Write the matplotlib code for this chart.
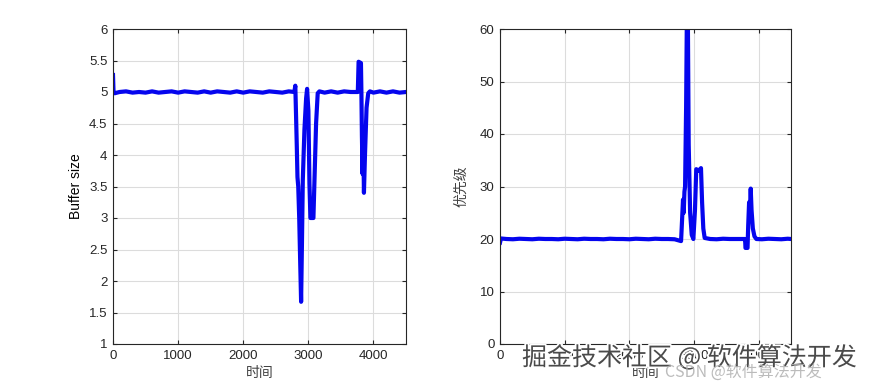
import matplotlib
matplotlib.use("Agg")
import matplotlib.pyplot as plt
import matplotlib.patheffects as pe

# ---- data ----
t_buf = [0, 8, 25, 100, 200, 300, 400, 500, 600, 700, 800, 900, 1000, 1100, 1200,
         1300, 1400, 1500, 1600, 1700, 1800, 1900, 2000, 2100, 2200, 2300, 2400,
         2500, 2600, 2700, 2785, 2800, 2812, 2823, 2833, 2845, 2860, 2875, 2889,
         2902, 2915, 2940, 2966, 2981, 3001, 3017, 3032, 3055, 3078, 3093, 3119,
         3144, 3170, 3250, 3350, 3450, 3550, 3650, 3760, 3772, 3808, 3815, 3823,
         3833, 3843, 3854, 3870, 3894, 3920, 3946, 4000, 4100, 4200, 4300, 4400, 4500]
buf = [5.27, 5.0, 4.98, 5.0, 5.01, 4.99, 5.0, 4.99, 5.01, 4.99, 5.0, 5.01, 4.99,
       5.01, 5.0, 4.99, 5.01, 4.99, 5.01, 5.0, 4.99, 5.01, 4.99, 5.01, 5.0, 4.99,
       5.01, 5.0, 4.99, 5.01, 5.0, 5.1, 4.6, 4.13, 3.65, 3.5, 3.0, 2.3, 1.67,
       2.6, 3.6, 4.4, 4.9, 5.05, 4.7, 3.55, 3.0, 3.0, 3.0, 3.55, 4.5, 4.98, 5.01,
       4.99, 5.01, 4.99, 5.01, 5.0, 5.0, 5.48, 5.46, 5.0, 4.3, 3.7, 4.3, 3.4,
       4.0, 4.75, 4.98, 5.01, 4.99, 5.01, 4.99, 5.01, 4.99, 5.0]

t_pri = [0, 15, 100, 200, 300, 400, 500, 600, 700, 800, 900, 1000, 1100, 1200,
         1300, 1400, 1500, 1600, 1700, 1800, 1900, 2000, 2100, 2200, 2300, 2400,
         2500, 2600, 2700, 2800, 2815, 2830, 2841, 2852, 2862, 2878, 2890, 2905,
         2918, 2940, 2965, 2990, 3015, 3035, 3070, 3108, 3125, 3144, 3165, 3250,
         3350, 3450, 3550, 3650, 3750, 3790, 3796, 3828, 3838, 3852, 3862, 3877,
         3890, 3910, 3935, 3965, 4050, 4150, 4250, 4350, 4450, 4500]
pri = [19.3, 20.1, 20.0, 19.95, 20.05, 20.0, 19.95, 20.05, 20.0, 20.0, 19.95, 20.05,
       20.0, 19.95, 20.05, 20.0, 20.0, 19.95, 20.05, 20.0, 20.0, 19.95, 20.05, 20.0,
       19.95, 20.05, 20.0, 20.0, 19.95, 19.6, 23.5, 27.5, 25.0, 29.0, 30.0, 45.0,
       63.0, 62.0, 38.0, 25.0, 20.8, 20.0, 25.5, 33.3, 33.0, 33.5, 27.0, 22.0,
       20.2, 20.0, 19.95, 20.05, 20.0, 20.0, 20.0, 20.0, 18.3, 18.3, 22.5, 27.0,
       24.5, 29.6, 25.5, 22.0, 20.5, 20.0, 19.95, 20.05, 20.0, 19.95, 20.05, 20.0]

x_ticks = [0, 1000, 2000, 3000, 4000]
buf_ticks = [1, 1.5, 2, 2.5, 3, 3.5, 4, 4.5, 5, 5.5, 6]
pri_ticks = [0, 10, 20, 30, 40, 50, 60]

plt.rcParams['font.family'] = ['Liberation Sans', 'Noto Sans CJK SC', 'DejaVu Sans']

fig = plt.figure(figsize=(8.73, 3.87), dpi=100)
ax1 = fig.add_axes([113/873, 43/387, 293/873, 315/387])
ax2 = fig.add_axes([500/873, 43/387, 291/873, 315/387])

txt = '#262626'
line_c = '#0505ee'

def style(ax):
    ax.grid(True, color='#dcdcdc', linewidth=0.8)
    ax.set_axisbelow(True)
    for s in ax.spines.values():
        s.set_color(txt)
        s.set_linewidth(0.8)
    ax.tick_params(direction='in', length=3, width=0.8, colors=txt,
                   labelsize=9.5, top=True, right=True, pad=4)

ax1.plot(t_buf, buf, color=line_c, linewidth=3.0, solid_joinstyle='round')
ax1.set_xlim(0, 4500)
ax1.set_ylim(1, 6)
ax1.set_xticks(x_ticks)
ax1.set_yticks(buf_ticks)
ax1.set_yticklabels(['1', '1.5', '2', '2.5', '3', '3.5', '4', '4.5', '5', '5.5', '6'])
ax1.set_ylabel('Buffer size', fontsize=10, color='black', labelpad=4)
ax1.set_xlabel('时间', fontsize=10, color='#404040', labelpad=3,
               family=['Noto Sans CJK SC'])
style(ax1)

ax2.plot(t_pri, pri, color=line_c, linewidth=3.0, solid_joinstyle='round')
ax2.set_xlim(0, 4500)
ax2.set_ylim(0, 60)
ax2.set_xticks(x_ticks)
ax2.set_yticks(pri_ticks)
ax2.set_ylabel('优先级', fontsize=10, color='#404040', labelpad=8,
               family=['Noto Sans CJK SC'])
ax2.set_xlabel('时间', fontsize=10, color='#404040', labelpad=3,
               family=['Noto Sans CJK SC'])
style(ax2)

# watermarks
fig.text(522/873, 1 - 358/387, '掘金技术社区 @ 软件算法开发', fontsize=18,
         color='#4a4a4a', family=['Noto Sans CJK SC'], va='center', ha='left',
         path_effects=[pe.withStroke(linewidth=2.5, foreground='white')])
fig.text(665/873, 1 - 372/387, 'CSDN @软件算法开发', fontsize=11.5,
         color='#b0b0b0', family=['Noto Sans CJK SC', 'DejaVu Sans'],
         va='center', ha='left', alpha=0.85)

fig.savefig('out.png', dpi=100)
